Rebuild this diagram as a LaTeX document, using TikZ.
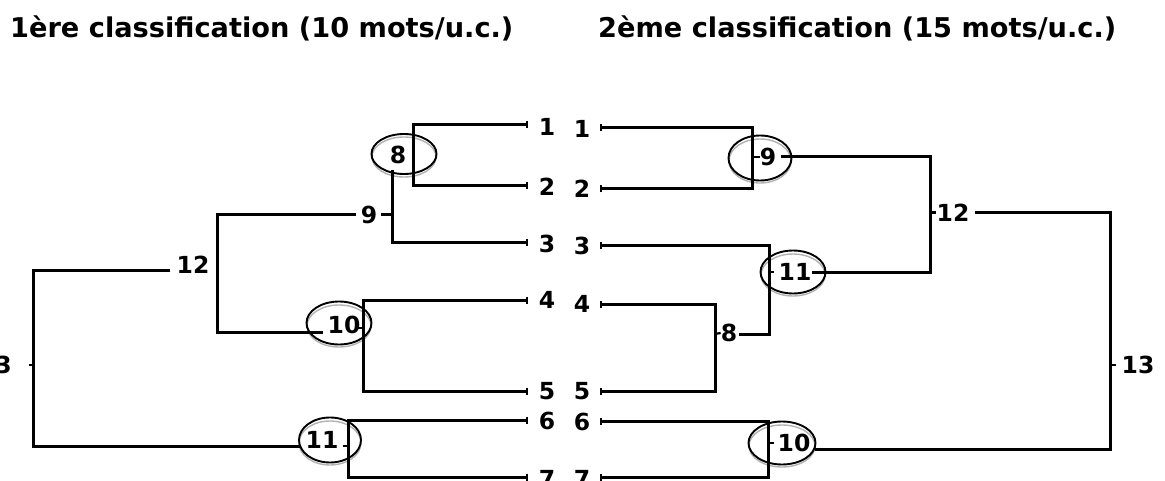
\documentclass[tikz,border=0pt]{standalone}
\usepackage{fontspec}
\setmainfont{DejaVu Sans}
\newfontfamily\titlefont{DejaVu Sans}
\usetikzlibrary{arrows.meta,shapes.geometric}
\begin{document}
\begin{tikzpicture}[x=1pt,y=-1pt,
  edge/.style={line width=3pt, line join=miter},
  thin/.style={line width=2.2pt},
  tickboth/.style={{Bar[width=7pt,line width=2pt]}-{Bar[width=7pt,line width=2pt]}},
  tickstart/.style={{Bar[width=7pt,line width=2pt]}-},
  num/.style={inner sep=0pt, font=\bfseries\fontsize{23.5}{24}\selectfont},
  ttl/.style={inner sep=0pt, anchor=base west, font=\titlefont\bfseries\fontsize{27.2}{30}\selectfont},
  ring/.style={draw, ellipse, line width=1.9pt, inner sep=0pt},
  ringshadow/.style={draw=black!30, line width=1.4pt}]
\useasboundingbox (0,0) rectangle (1165,481);

% titles
\node[ttl] (title1) at (10,38) {1ère classification (10 mots/u.c.)};
\node[ttl] (title2) at (598,38) {2ème classification (15 mots/u.c.)};

% leaf labels
\foreach \i/\y in {1/127,2/187,3/244,4/300,5/391,6/421,7/479}
  \node[num] (L\i) at (547,\y) {\i};
\foreach \i/\y in {1/129,2/189,3/246,4/304,5/391,6/422,7/479}
  \node[num] (R\i) at (582,\y) {\i};
\foreach \i/\y in {1/125,2/186,3/243,4/300,5/391,6/420,7/477}
  \coordinate (tL\i) at (528,\y);
\foreach \i/\y in {1/128,2/189,3/246,4/304,5/391,6/421,7/477}
  \coordinate (tR\i) at (600,\y);

% ellipse shadows
\foreach \cx/\cy/\rx/\ry in {404/157/32/20, 339/326/32/21, 330/443/31/22,
                              760/161/31/22, 793/275/32/21, 782/446/33/21}
  \draw[ringshadow] (\cx,\cy) ellipse [x radius=\rx, y radius=\ry];

% ellipses
\node[ring, minimum width=65pt, minimum height=40pt] (e8L)  at (404,154) {};
\node[ring, minimum width=65pt, minimum height=43pt] (e10L) at (339,323) {};
\node[ring, minimum width=62pt, minimum height=45pt] (e11L) at (330,440) {};
\node[ring, minimum width=63pt, minimum height=45pt] (e9R)  at (760,158) {};
\node[ring, minimum width=65pt, minimum height=43pt] (e11R) at (793,272) {};
\node[ring, minimum width=67pt, minimum height=43pt] (e10R) at (782,443) {};

% ---------- left tree ----------
\node[num] (n8L)  at (398,155) {8};
\node[num] (n9L)  at (369,215) {9};
\node[num] (n10L) at (344,325) {10};
\node[num] (n11L) at (322,440) {11};
\node[num] (n12L) at (193,265) {12};
\node[num, anchor=east] (n13L) at (12,365) {13};

\draw[edge, tickboth] (tL1) -- (413,125) -- (413,186) -- (tL2);
\coordinate (c8L) at (392,170);
\draw[edge, -{Bar[width=7pt,line width=2pt]}] (c8L) -- (392,243) -- (tL3);
\draw[edge] (n9L.east) ++(4pt,0) -- (392,215);
\draw[edge] (n9L.west) ++(-5pt,0) -- (217,215) -- (217,332) -- (323,332);
\draw[edge, tickboth] (tL4) -- (363,300) -- (363,391) -- (tL5);
\draw[thin] (363,328) -- (358,328);
\draw[edge] (n12L.west) ++(-6pt,6) -- (33,271) -- (33,446) -- (300,446);
\draw[thin] (33,365) -- (29,365);
\draw[edge, tickboth] (tL6) -- (348,420) -- (348,477) -- (tL7);
\draw[thin] (348,446) -- (343,446);

% ---------- right tree ----------
\node[num] (n9R)  at (768,157) {9};
\node[num] (n11R) at (795,272) {11};
\node[num] (n12R) at (953,213) {12};
\node[num] (n8R)  at (729,333) {8};
\node[num] (n10R) at (794,443) {10};
\node[num] (n13R) at (1138,365) {13};

\draw[edge, tickboth] (tR1) -- (752,128) -- (752,189) -- (tR2);
\draw[thin] (752,157) -- (n9R.west);
\draw[edge] (n9R.east) ++(5pt,0) -- (930,157) -- (930,273) -- (812,273);
\draw[thin] (769,272) -- (774,272);
\draw[edge] (930,213) -- (n12R.west);
\draw[edge] (n12R.east) ++(5pt,0) -- (1110,213) -- (1110,449) -- (815,449);
\draw[thin] (1110,365) -- (1116,365);
\draw[edge, tickstart] (tR3) -- (769,246) -- (769,334) -- (739,334);
\draw[edge, tickboth] (tR4) -- (715,304) -- (715,391) -- (tR5);
\draw[thin] (715,334) -- (n8R.west);
\draw[edge, tickboth] (tR6) -- (768,421) -- (768,477) -- (tR7);
\draw[thin] (768,443) -- (774,443);
\end{tikzpicture}
\end{document}
